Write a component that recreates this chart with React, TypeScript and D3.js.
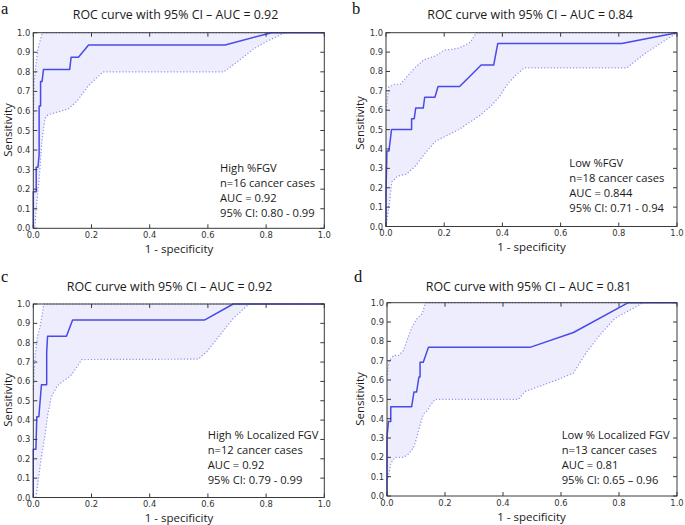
import React from "react";
import * as d3 from "d3";

type P = [number, number];

// ---- data ----
const xTicks = [0, 0.2, 0.4, 0.6, 0.8, 1.0];
const yTicks = [0, 0.1, 0.2, 0.3, 0.4, 0.5, 0.6, 0.7, 0.8, 0.9, 1.0];
const panelLetters = ["a", "b", "c", "d"];
const titles = [
  "ROC curve with 95% CI \u2013 AUC = 0.92",
  "ROC curve with 95% CI \u2013 AUC = 0.84",
  "ROC curve with 95% CI \u2013 AUC = 0.92",
  "ROC curve with 95% CI \u2013 AUC = 0.81",
];
const notes = [
  ["High %FGV", "n=16 cancer cases", "AUC = 0.92", "95% CI: 0.80 - 0.99"],
  ["Low %FGV", "n=18 cancer cases", "AUC = 0.844", "95% CI: 0.71 - 0.94"],
  ["High % Localized FGV", "n=12 cancer cases", "AUC = 0.92", "95% CI: 0.79 - 0.99"],
  ["Low % Localized FGV", "n=13 cancer cases", "AUC = 0.81", "95% CI: 0.65 \u2013 0.96"],
];

const rocA: P[] = [[0, 0], [0, 0.1875], [0.01, 0.1875], [0.01, 0.3125], [0.016, 0.3125], [0.02, 0.375], [0.02, 0.625], [0.025, 0.625], [0.025, 0.75], [0.03, 0.75], [0.035, 0.8125], [0.125, 0.8125], [0.13, 0.875], [0.155, 0.875], [0.19, 0.9375], [0.659, 0.9375], [0.819, 1], [1, 1]];
const upperA: P[] = [[0, 0.5], [0.003, 0.75], [0.01, 0.85], [0.015, 0.91], [0.02, 0.94], [0.031, 1], [1, 1]];
const lowerA: P[] = [[0, 0], [0.005, 0], [0.01, 0.1], [0.02, 0.25], [0.03, 0.45], [0.04, 0.56], [0.05, 0.58], [0.12, 0.61], [0.15, 0.65], [0.19, 0.73], [0.24, 0.8], [0.655, 0.8], [0.7, 0.85], [0.76, 0.92], [0.808, 0.96], [0.865, 1], [1, 1]];

const rocB: P[] = [[0, 0], [0, 0.167], [0.003, 0.389], [0.01, 0.389], [0.019, 0.5], [0.088, 0.5], [0.088, 0.556], [0.097, 0.556], [0.102, 0.611], [0.128, 0.611], [0.133, 0.667], [0.168, 0.667], [0.179, 0.722], [0.253, 0.722], [0.327, 0.833], [0.37, 0.833], [0.384, 0.944], [0.81, 0.944], [1, 1]];
const upperB: P[] = [[0, 0.6], [0.01, 0.72], [0.03, 0.734], [0.05, 0.734], [0.07, 0.77], [0.1, 0.82], [0.13, 0.86], [0.17, 0.88], [0.2, 0.91], [0.25, 0.92], [0.29, 0.95], [0.31, 1], [1, 1]];
const lowerB: P[] = [[0, 0], [0.01, 0.1], [0.02, 0.23], [0.04, 0.26], [0.07, 0.27], [0.1, 0.31], [0.13, 0.37], [0.17, 0.44], [0.21, 0.47], [0.25, 0.5], [0.3, 0.55], [0.32, 0.57], [0.36, 0.62], [0.39, 0.67], [0.42, 0.74], [0.446, 0.78], [0.475, 0.819], [0.828, 0.819], [0.89, 0.893], [1, 1]];

const rocC: P[] = [[0, 0], [0, 0.25], [0.009, 0.25], [0.012, 0.417], [0.019, 0.417], [0.028, 0.583], [0.046, 0.583], [0.046, 0.75], [0.049, 0.833], [0.114, 0.833], [0.135, 0.917], [0.588, 0.917], [0.687, 1], [1, 1]];
const upperC: P[] = [[0, 0.557], [0.006, 0.73], [0.014, 0.83], [0.023, 0.88], [0.029, 0.93], [0.036, 1], [1, 1]];
const lowerC: P[] = [[0.009, 0], [0.017, 0.09], [0.028, 0.21], [0.039, 0.31], [0.05, 0.43], [0.062, 0.52], [0.08, 0.57], [0.092, 0.59], [0.126, 0.625], [0.143, 0.66], [0.155, 0.685], [0.166, 0.713], [0.567, 0.715], [0.596, 0.753], [0.642, 0.84], [0.687, 0.926], [0.742, 1], [1, 1]];

const rocD: P[] = [[0, 0], [0, 0.308], [0.005, 0.385], [0.013, 0.385], [0.013, 0.462], [0.085, 0.462], [0.093, 0.538], [0.102, 0.538], [0.11, 0.615], [0.114, 0.615], [0.114, 0.692], [0.125, 0.692], [0.143, 0.769], [0.493, 0.769], [0.643, 0.846], [0.832, 1], [1, 1]];
const upperD: P[] = [[0, 0.626], [0.008, 0.7], [0.023, 0.727], [0.04, 0.727], [0.057, 0.753], [0.069, 0.805], [0.086, 0.874], [0.103, 0.917], [0.121, 0.943], [0.133, 1], [1, 1]];
const lowerD: P[] = [[0, 0.08], [0.005, 0.1], [0.013, 0.17], [0.028, 0.2], [0.057, 0.2], [0.075, 0.218], [0.092, 0.252], [0.103, 0.304], [0.115, 0.373], [0.126, 0.425], [0.14, 0.442], [0.149, 0.468], [0.166, 0.5], [0.453, 0.5], [0.476, 0.54], [0.585, 0.6], [0.642, 0.635], [0.689, 0.746], [0.734, 0.833], [0.786, 0.919], [0.849, 0.971], [0.884, 1], [1, 1]];

const rocs = [rocA, rocB, rocC, rocD];
const uppers = [upperA, upperB, upperC, upperD];
const lowers = [lowerA, lowerB, lowerC, lowerD];

// ---- layout ----
const boxes = [
  { l: 33.3, r: 324.3, t: 32.7, b: 228.3 },
  { l: 386, r: 677, t: 32.7, b: 226.5 },
  { l: 33.3, r: 324.3, t: 304, b: 497.5 },
  { l: 387, r: 677, t: 302.7, b: 496 },
];
const titlePos = [[175.5, 18.5], [530, 18.5], [169.5, 290.5], [528.5, 290.5]];
const letterPos = [[1, 14], [352, 14], [1, 282], [354, 282]];
const xLabPos = [[179, 252.5], [531.5, 250.5], [179, 522], [531.5, 520.5]];
const yLabPos = [[12, 130], [364, 123], [12, 400], [364, 399]];
const notePos = [[220, 171.5], [569.3, 166.5], [207.7, 438.5], [561.7, 438.5]];

const BLUE = "#4a4ae6";
const DOT = "#8f8ff2";
const FILL = "#ededfd";
const AX = "#3a3a3a";
const SANS = "'Open Sans', sans-serif";
const TICKF = "'DejaVu Sans', sans-serif";

function Panel({ i }: { i: number }) {
  const bx = boxes[i];
  const x = d3.scaleLinear().domain([0, 1]).range([bx.l, bx.r]);
  const y = d3.scaleLinear().domain([0, 1]).range([bx.b, bx.t]);
  const line = d3.line<P>().x((d) => x(d[0])).y((d) => y(d[1]));
  const poly = [...uppers[i], ...lowers[i].slice().reverse()];
  const area = line(poly) + "Z";
  const tl = 4;
  return (
    <g>
      <path d={area} fill={FILL} stroke="none" />
      <path d={line(uppers[i]) || ""} fill="none" stroke={DOT} strokeWidth={1.2} strokeDasharray="1.2,2" />
      <path d={line(lowers[i]) || ""} fill="none" stroke={DOT} strokeWidth={1.2} strokeDasharray="1.2,2" />
      <path d={line(rocs[i]) || ""} fill="none" stroke={BLUE} strokeWidth={1.5} strokeLinejoin="round" />
      <rect x={bx.l} y={bx.t} width={bx.r - bx.l} height={bx.b - bx.t} fill="none" stroke={AX} strokeWidth={1} />
      {xTicks.map((t) => (
        <g key={"x" + t}>
          <line x1={x(t)} x2={x(t)} y1={bx.b} y2={bx.b - tl} stroke={AX} />
          <line x1={x(t)} x2={x(t)} y1={bx.t} y2={bx.t + tl} stroke={AX} />
          <text x={x(t)} y={bx.b + 9.8} textAnchor="middle" fontFamily={TICKF} fontSize={8.4} fill="#333">
            {t.toFixed(1)}
          </text>
        </g>
      ))}
      {yTicks.map((t) => (
        <g key={"y" + t}>
          <line x1={bx.l} x2={bx.l + tl} y1={y(t)} y2={y(t)} stroke={AX} />
          <line x1={bx.r} x2={bx.r - tl} y1={y(t)} y2={y(t)} stroke={AX} />
          <text x={bx.l - 3} y={y(t) + 3} textAnchor="end" fontFamily={TICKF} fontSize={8.4} fill="#333">
            {t.toFixed(1)}
          </text>
        </g>
      ))}
      <text x={titlePos[i][0]} y={titlePos[i][1]} textAnchor="middle" fontFamily={SANS} fontSize={12.4} fill="#1a1a1a">
        {titles[i]}
      </text>
      <text x={letterPos[i][0]} y={letterPos[i][1]} fontFamily="'Liberation Serif', serif" fontSize={16.5} fill="#111">
        {panelLetters[i]}
      </text>
      <text x={xLabPos[i][0]} y={xLabPos[i][1]} textAnchor="middle" fontFamily={SANS} fontSize={11.5} fill="#1a1a1a">
        1 - specificity
      </text>
      <text
        transform={`translate(${yLabPos[i][0]},${yLabPos[i][1]}) rotate(-90)`}
        textAnchor="middle"
        fontFamily={SANS}
        fontSize={11.5}
        fill="#1a1a1a"
      >
        Sensitivity
      </text>
      {notes[i].map((s, k) => (
        <text key={k} x={notePos[i][0]} y={notePos[i][1] + k * 15.3} fontFamily={SANS} fontSize={11.2} fill="#1a1a1a">
          {s}
        </text>
      ))}
    </g>
  );
}

export default function App() {
  return (
    <svg width={685} height={525} style={{ position: "absolute", left: 0, top: 0, background: "#fff" }}>
      <rect width={685} height={525} fill="#fff" />
      {[0, 1, 2, 3].map((i) => (
        <Panel key={i} i={i} />
      ))}
    </svg>
  );
}
